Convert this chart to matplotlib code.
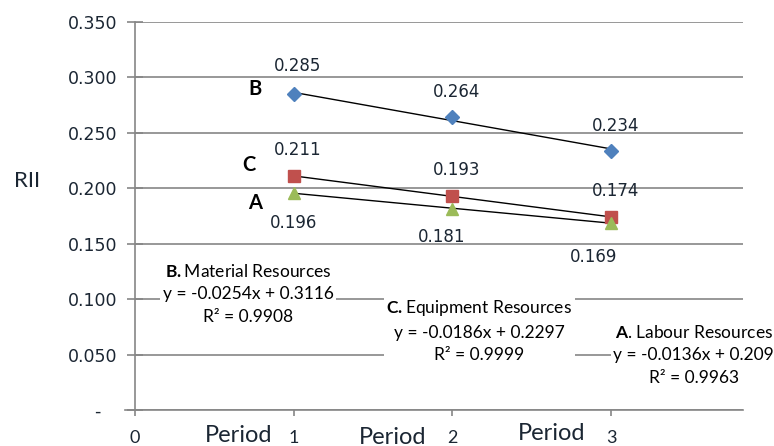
import numpy as np
import matplotlib
matplotlib.use("Agg")
import matplotlib.pyplot as plt

plt.rcParams['mathtext.fontset'] = 'custom'
plt.rcParams['mathtext.rm'] = 'Lato'
plt.rcParams['mathtext.bf'] = 'Lato:bold'

# data
periods = [1, 2, 3]
rii_b = [0.285, 0.264, 0.234]   # Material
rii_c = [0.211, 0.193, 0.174]   # Equipment
rii_a = [0.196, 0.181, 0.169]   # Labour
yticks = [0, 0.05, 0.10, 0.15, 0.20, 0.25, 0.30, 0.35]
ytick_labels = ["-   ", "0.050", "0.100", "0.150", "0.200", "0.250", "0.300", "0.350"]
xticks = [0, 1, 2, 3]

grid_col = "#868686"
fig = plt.figure(figsize=(7.74, 4.46), dpi=100)
ax = fig.add_axes([135/774, 1 - 410/446, (743 - 135)/774, (410 - 22)/446])
ax.set_xlim(0, 3.83)
ax.set_ylim(0, 0.35)

for s in ["top", "right"]:
    ax.spines[s].set_visible(False)
for s in ["left", "bottom"]:
    ax.spines[s].set_color(grid_col)
    ax.spines[s].set_linewidth(1.2)
ax.spines["bottom"].set_bounds(-0.06, 3.83)

ax.set_yticks(yticks)
ax.set_yticklabels(ytick_labels)
ax.yaxis.grid(True, color=grid_col, lw=1.2)
ax.set_axisbelow(True)
ax.tick_params(axis="y", direction="inout", length=11, width=1.2, color=grid_col, pad=7,
               labelsize=12.5, labelcolor="#1b2633")
for lab in ax.get_yticklabels():
    lab.set_family("DejaVu Sans")

ax.set_xticks(xticks)
ax.set_xticklabels([str(t) for t in xticks])
ax.tick_params(axis="x", direction="out", length=4.5, width=1.2, color=grid_col, pad=10,
               labelsize=13, labelcolor="#1b2633")
for lab in ax.get_xticklabels():
    lab.set_family("Lato")

series = [
    (rii_b, "#4F81BD", "D", 7, [(3, 20), (3, 18), (3, 18)], "B", (0.755, 0.290)),
    (rii_c, "#C0504D", "s", 8, [(3, 19), (3, 19), (3, 19)], "C", (0.72, 0.221)),
    (rii_a, "#9BBB59", "^", 9, [(0, -22), (-8, -20), (-13, -25)], "A", (0.755, 0.187)),
]
for vals, col, mk, ms, offs, letter, lpos in series:
    k, b = np.polyfit(periods, vals, 1)
    xs = np.array([periods[0], periods[-1]])
    ax.plot(xs, k * xs + b, color="black", lw=1, zorder=3)
    ax.plot(periods, vals, linestyle="none", marker=mk, ms=ms, color=col,
            markeredgecolor=col, zorder=4)
    for x, v, off in zip(periods, vals, offs):
        ax.annotate(f"{v:.3f}", (x, v), xytext=off, textcoords="offset points",
                    ha="center", va="center", fontsize=12, family="DejaVu Sans",
                    color="#1b2633")
    ax.text(lpos[0], lpos[1], letter, ha="center", va="center", fontsize=14.5,
            fontweight="bold", family="Lato", color="black")

box = dict(facecolor="white", edgecolor="none", pad=2)
ax.text(0.712, 0.105, "$\\mathbf{B.}$Material Resources\ny = -0.0254x + 0.3116\nR² = 0.9908",
        ha="center", va="center", fontsize=12.5, family="Lato", linespacing=1.5,
        bbox=box, zorder=5)
ax.text(2.17, 0.0714, "$\\mathbf{C.}$Equipment Resources\ny = -0.0186x + 0.2297\nR² = 0.9999",
        ha="center", va="center", fontsize=12.5, family="Lato", linespacing=1.5,
        bbox=box, zorder=5)
ax.text(3.52, 0.0497, "$\\mathbf{A}$. Labour Resources\ny = -0.0136x + 0.209\nR² = 0.9963",
        ha="center", va="center", fontsize=12.5, family="Lato", linespacing=1.5,
        bbox=box, zorder=5, clip_on=False)

# "Period" captions under the x axis
for xp, yp in [(239, 436), (393, 437), (552, 433)]:
    fig.text(xp/774, 1 - yp/446, "Period", ha="center", va="center",
             fontsize=17, family="Lato", color="#1b2633")

fig.text(27/774, 1 - 181/446, "RII", ha="center", va="center",
         fontsize=16, family="Lato", color="#1b2633")

fig.savefig("out.png", dpi=100)
